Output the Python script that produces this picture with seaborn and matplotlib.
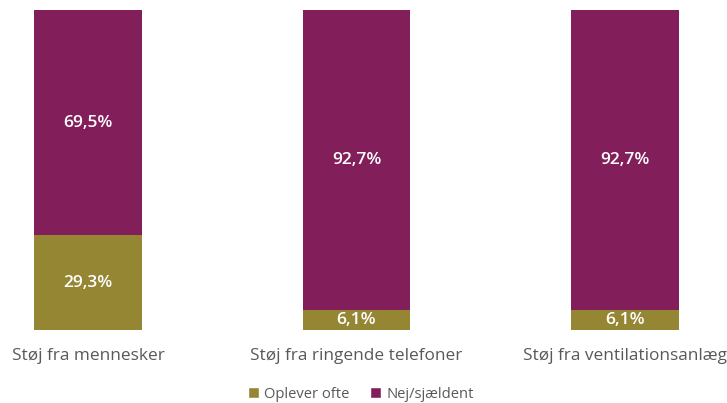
import matplotlib
matplotlib.use("Agg")
import matplotlib.pyplot as plt
import seaborn as sns
import pandas as pd
from matplotlib.patches import Patch

categories = ["Støj fra mennesker", "Støj fra ringende telefoner", "Støj fra ventilationsanlæg"]
oplever_ofte = [29.3, 6.1, 6.1]
nej_sjaeldent = [69.5, 92.7, 92.7]
series_names = ["Oplever ofte", "Nej/sjældent"]

OLIVE = "#948632"
PURPLE = "#821f5b"
GREY = "#595959"

sns.set_theme(style="white")
plt.rcParams["font.family"] = ["Open Sans", "DejaVu Sans"]

df = pd.DataFrame({"kategori": categories, "ofte": oplever_ofte, "sjaeldent": nej_sjaeldent})

fig = plt.figure(figsize=(7.27, 4.03), dpi=100)
ax = fig.add_axes([0, 73 / 403, 1, 320 / 403])

sns.barplot(data=df, x="kategori", y="ofte", color=OLIVE, width=0.4,
            saturation=1, ax=ax, linewidth=0)
sns.barplot(data=df, x="kategori", y="sjaeldent", bottom=df["ofte"], color=PURPLE,
            width=0.4, saturation=1, ax=ax, linewidth=0)

for cont, vals in zip(ax.containers, [oplever_ofte, nej_sjaeldent]):
    ax.bar_label(cont, labels=[f"{v:.1f}".replace(".", ",") + "%" for v in vals],
                 label_type="center", color="white", fontsize=12.5, fontweight="semibold")

ax.set_xlim(-88 / 268.5, (727 - 88) / 268.5)
ax.set_ylim(0, max(a + b for a, b in zip(oplever_ofte, nej_sjaeldent)))
ax.set_xlabel("")
ax.set_ylabel("")
ax.set_yticks([])
ax.tick_params(axis="x", length=0, pad=13, labelsize=12.4, labelcolor=GREY)
for lbl in ax.get_xticklabels():
    lbl.set_fontweight("medium")
sns.despine(ax=ax, left=True, bottom=True)

handles = [Patch(facecolor=OLIVE, label=series_names[0]),
           Patch(facecolor=PURPLE, label=series_names[1])]
fig.legend(handles=handles, loc="center", bbox_to_anchor=(361 / 727, 9 / 403), ncol=2,
           frameon=False, fontsize=10.6, handlelength=0.75, handleheight=0.75,
           handletextpad=0.35, columnspacing=1.4, labelcolor=GREY,
           borderpad=0, borderaxespad=0)

fig.savefig("out.png", dpi=100)
